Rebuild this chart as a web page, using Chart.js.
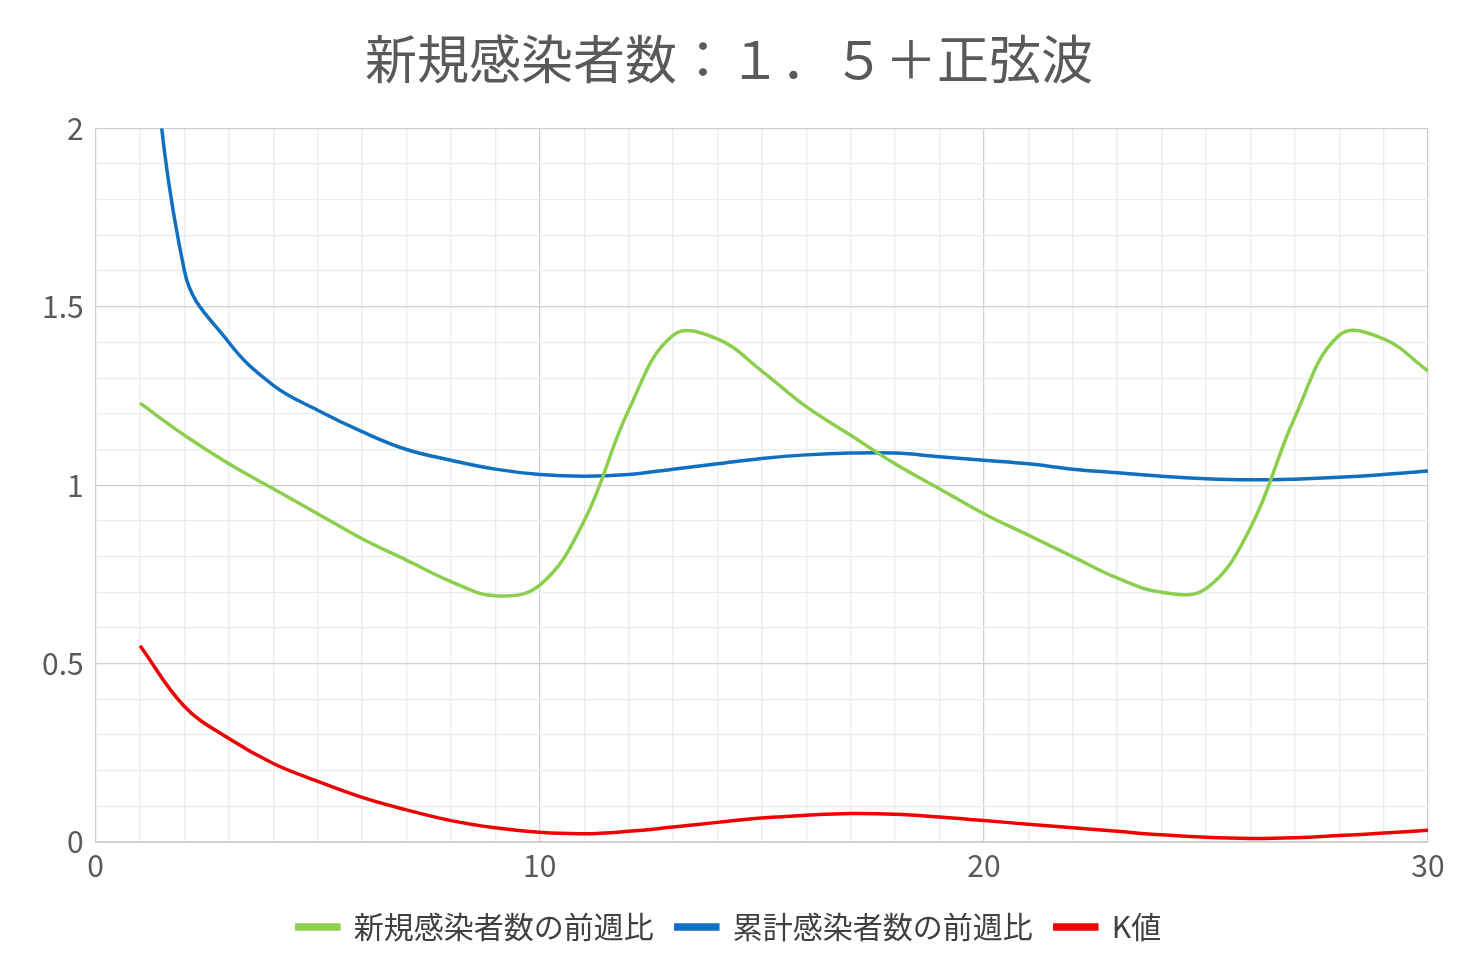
<!DOCTYPE html>
<html><head><meta charset="utf-8">
<script src="https://cdn.jsdelivr.net/npm/chart.js@4"></script>
<style>html,body{margin:0;background:#fff}#w{width:1468px;height:958px}</style>
</head><body><div id="w"><canvas id="c"></canvas></div>
<script>
const xs=[1,2,3,4,5,6,7,8,9,10,11,12,13,14,15,16,17,18,19,20,21,22,23,24,25,26,27,28,29,30];
const newRatio=[1.23,1.14,1.06,0.99,0.92,0.85,0.79,0.73,0.69,0.72,0.90,1.21,1.42,1.41,1.32,1.22,1.14,1.06,0.99,0.92,0.86,0.80,0.74,0.70,0.71,0.88,1.19,1.42,1.41,1.32];
const cumRatio=[2.6,1.60,1.40,1.28,1.21,1.15,1.10,1.07,1.045,1.03,1.025,1.03,1.045,1.06,1.075,1.085,1.09,1.09,1.08,1.07,1.06,1.045,1.035,1.025,1.018,1.015,1.017,1.022,1.03,1.04];
const kVal=[0.55,0.38,0.29,0.22,0.17,0.125,0.09,0.06,0.04,0.027,0.023,0.03,0.042,0.055,0.067,0.075,0.08,0.078,0.07,0.06,0.05,0.04,0.03,0.02,0.013,0.01,0.012,0.018,0.025,0.033];
const names=['新規感染者数の前週比','累計感染者数の前週比','K値'];
const F='"Noto Sans CJK JP", sans-serif';
const pts=a=>a.map((v,i)=>({x:xs[i],y:v}));
const ds=(l,d,c)=>({label:l,data:pts(d),borderColor:c,backgroundColor:c,borderWidth:3.5,pointRadius:0,tension:0.4,fill:false});
new Chart(document.getElementById('c'),{type:'line',
data:{datasets:[ds(names[0],newRatio,'#8ccf4f'),ds(names[1],cumRatio,'#0f6fc0'),ds(names[2],kVal,'#f00000')]},
options:{responsive:true,maintainAspectRatio:false,animation:false,
layout:{padding:{left:30,right:40,top:18,bottom:6}},
plugins:{title:{display:true,text:'新規感染者数：１．５＋正弦波',color:'#595959',font:{family:F,size:52,weight:'normal'},padding:{top:10,bottom:38}},
legend:{position:'bottom',labels:{color:'#404040',font:{family:F,size:30},boxWidth:42,boxHeight:4,padding:22}}},
scales:{x:{type:'linear',min:0,max:30,
ticks:{stepSize:1,autoSkip:false,maxRotation:0,color:'#595959',font:{family:F,size:30},padding:6,callback:v=>v%10===0?String(v):''},
grid:{color:c=>c.tick&&c.tick.value%10===0?'#d0d0d0':'#ececec',lineWidth:1.3,drawTicks:false},border:{color:'#d0d0d0'}},
y:{min:0,max:2,ticks:{stepSize:0.1,autoSkip:false,color:'#595959',font:{family:F,size:30},padding:12,
callback:v=>{const r=Math.round(v*10);return r%5===0?String(r/10):'';}},
grid:{color:c=>c.tick&&Math.round(c.tick.value*10)%5===0?'#d0d0d0':'#ececec',lineWidth:1.3,drawTicks:false},border:{color:'#d0d0d0'}}}}});
</script></body></html>
